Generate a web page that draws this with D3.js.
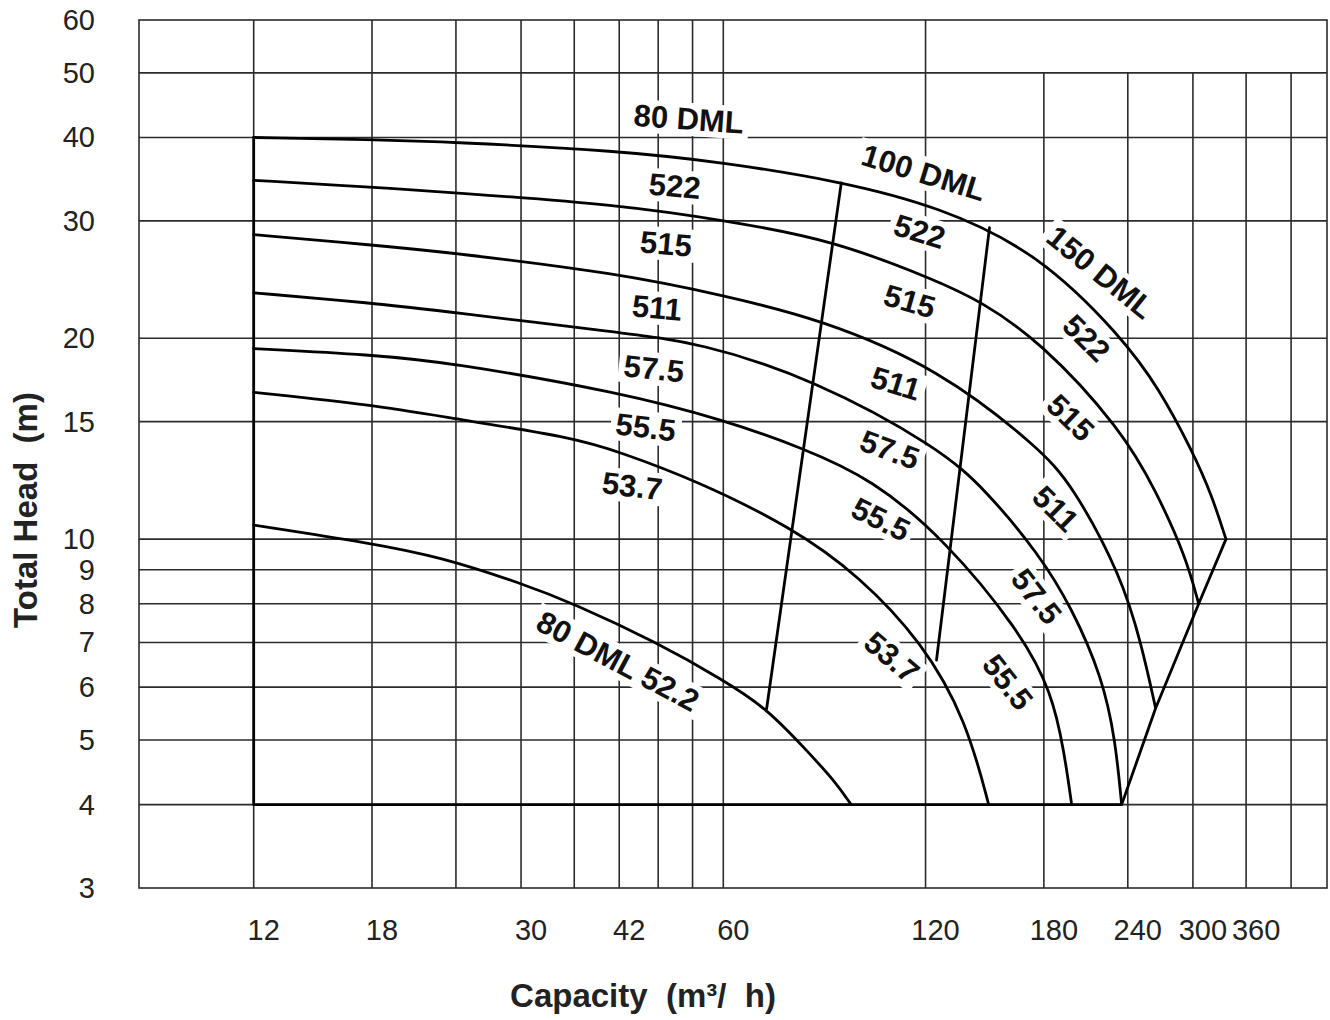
<!DOCTYPE html>
<html>
<head>
<meta charset="utf-8">
<script src="https://cdn.jsdelivr.net/npm/d3@7"></script>
<style>
  html, body { margin: 0; padding: 0; background: #ffffff; }
  svg { display: block; }
</style>
</head>
<body>
<svg id="chart" width="1330" height="1020"></svg>
<script>
// ---------------- DATA ----------------
// axis domains (capacity m3/h, total head m) – log/log chart
const xDomain = [8.1, 475];
const yDomain = [3, 60];

// tick labels
const xTickValues = [12, 18, 30, 42, 60, 120, 180, 240, 300, 360];
const yTickValues = [3, 4, 5, 6, 7, 8, 9, 10, 15, 20, 30, 40, 50, 60];

// grid lines
const xGridFull = [12, 18, 24, 30, 36, 42, 48, 54, 60, 120];
const xGridShort = [180, 240, 300, 360, 420];   // these stop at 50 m
const xGridShortTop = 50;
const yGrid = [4, 5, 6, 7, 8, 9, 10, 15, 20, 30, 40, 50];

// impeller head curves [capacity, head]
const curve522 = [[12, 40], [18, 39.7], [23.5, 39.4], [42.1, 38.2], [60.1, 36.7], [89.4, 34.4],
                  [126, 31.5], [177, 26.8], [235, 20.1], [267, 16.84], [300, 13.5], [320, 11.64], [336, 10]];
const curve515 = [[12, 34.5], [18, 33.7], [23.5, 33.1], [42.1, 31.7], [60.7, 30.0], [87.3, 28.1],
                  [126, 24.3], [144, 22.8], [177, 19.9], [235, 14.6], [264.5, 11.8], [293, 9.4], [306, 8.0]];
const curve511 = [[12, 28.6], [18, 27.6], [23.5, 26.9], [42.1, 25.0], [59.9, 23.2], [83.5, 21.4],
                  [126, 18.0], [177, 13.7], [198, 12.1], [235, 8.8], [252, 6.9], [264, 5.58]];
const curve575 = [[12, 23.4], [18, 22.6], [23.5, 21.9], [42.1, 20.4], [55.4, 19.7], [81.5, 17.4],
                  [126, 13.7], [148, 11.8], [177, 9.5], [198, 7.9], [220, 6.2], [230, 5.0], [235, 4]];
const curve555 = [[12, 19.3], [18, 18.9], [23.5, 18.4], [42.1, 16.6], [60, 15.1], [78.8, 13.7],
                  [100, 12.3], [128, 10.0], [165.5, 7.3], [185, 5.9], [193, 4.8], [198, 4]];
const curve537 = [[12, 16.6], [18, 15.9], [23.5, 15.2], [35.9, 14.2], [42.1, 13.5], [54.1, 12.3],
                  [76.2, 10.4], [95.7, 8.8], [118.8, 7.0], [138, 5.35], [149, 4]];
const curve522b = [[12, 10.5], [18, 9.86], [22.8, 9.4], [29.9, 8.6], [36, 8.0], [47.8, 7.0],
                   [60, 6.15], [69.6, 5.58], [79.9, 4.82], [87.9, 4.34], [93, 4]];
const curves = [curve522, curve515, curve511, curve575, curve555, curve537, curve522b];

// pump-size dividing lines (80/100 DML and 100/150 DML)
const divider80to100 = [[89.9, 34.2], [69.6, 5.57]];
const divider100to150 = [[149.4, 29.3], [124.6, 6.59]];

// minimum head / capacity of the operating range
const minHead = 4;
const minCapacity = 12;

// curve labels
const labelText  = ["80 DML", "522", "515", "511", "57.5", "55.5", "53.7", "80 DML 52.2",
                    "100 DML", "522", "515", "511", "57.5", "55.5", "53.7",
                    "150 DML", "522", "515", "511", "57.5", "55.5"];
const labelQ     = [53.3, 50.8, 49.3, 47.8, 47.3, 46.0, 43.9, 41.8,
                    119.2, 117.6, 113.6, 108.3, 106.1, 102.9, 106.8,
                    218.4, 208.2, 197.1, 187.3, 175.4, 158.9];
const labelH     = [42.6, 33.8, 27.7, 22.2, 18.0, 14.7, 12.0, 6.56,
                    35.4, 28.9, 22.7, 17.1, 13.6, 10.7, 6.65,
                    25.1, 20.0, 15.2, 11.1, 8.2, 6.1];
const labelAngle = [4, 5, 5, 5, 6, 7, 7, 28,
                    17, 17, 16, 17, 20, 26, 40,
                    39, 45, 44, 45, 52, 52];

const xTitle = "Capacity  (m³/  h)";
const yTitle = "Total Head  (m)";

// ---------------- DRAW ----------------
const svg = d3.select("#chart");
const FONT = "'Liberation Sans', Arial, Helvetica, sans-serif";

const x = d3.scaleLog().domain(xDomain).range([139, 1327]);
const y = d3.scaleLog().domain(yDomain).range([888, 20]);

svg.append("rect").attr("width", 1330).attr("height", 1020).attr("fill", "#fff");

const grid = svg.append("g").attr("stroke", "#2b2b2b").attr("stroke-width", 1.6).attr("fill", "none");

grid.selectAll("line.h").data(yGrid).join("line")
  .attr("x1", x(xDomain[0])).attr("x2", x(xDomain[1]))
  .attr("y1", d => y(d)).attr("y2", d => y(d));

grid.selectAll("line.vf").data(xGridFull).join("line")
  .attr("x1", d => x(d)).attr("x2", d => x(d))
  .attr("y1", y(yDomain[0])).attr("y2", y(yDomain[1]));

grid.selectAll("line.vs").data(xGridShort).enter().append("line")
  .attr("x1", d => x(d)).attr("x2", d => x(d))
  .attr("y1", y(yDomain[0])).attr("y2", y(xGridShortTop));

grid.append("rect")
  .attr("x", x(xDomain[0])).attr("y", y(yDomain[1]))
  .attr("width", x(xDomain[1]) - x(xDomain[0]))
  .attr("height", y(yDomain[0]) - y(yDomain[1]));

// curve labels with white background boxes (they cut the grid)
const labels = svg.append("g")
  .attr("font-family", FONT).attr("font-weight", "bold").attr("font-size", 31).attr("fill", "#111");

labelText.forEach((t, i) => {
  const g = labels.append("g")
    .attr("transform", `translate(${x(labelQ[i])},${y(labelH[i])}) rotate(${labelAngle[i]})`);
  const txt = g.append("text")
    .attr("text-anchor", "middle")
    .attr("dominant-baseline", "central")
    .attr("xml:space", "preserve")
    .style("white-space", "pre")
    .text(t);
  const bb = txt.node().getBBox();
  g.insert("rect", "text")
    .attr("x", bb.x - 5).attr("y", bb.y + 1)
    .attr("width", bb.width + 10).attr("height", bb.height - 2)
    .attr("fill", "#fff");
});

// head curves
const line = d3.line().x(d => x(d[0])).y(d => y(d[1])).curve(d3.curveBasis);
const straight = d3.line().x(d => x(d[0])).y(d => y(d[1]));

const marks = svg.append("g").attr("fill", "none").attr("stroke", "#000")
  .attr("stroke-width", 2.8).attr("stroke-linejoin", "round").attr("stroke-linecap", "round");

marks.selectAll("path.curve").data(curves).join("path")
  .attr("class", "curve").attr("d", line);

// operating-range envelope
const envelope = [
  [minCapacity, curve522[0][1]],
  [minCapacity, minHead],
  curve575[curve575.length - 1],
  curve511[curve511.length - 1],
  curve515[curve515.length - 1],
  curve522[curve522.length - 1]
];
marks.append("path").attr("d", straight(envelope));

// dividers between pump sizes
marks.append("path").attr("d", straight(divider80to100));
marks.append("path").attr("d", straight(divider100to150));

// tick labels
const ticks = svg.append("g").attr("font-family", FONT).attr("font-size", 29).attr("fill", "#222");

ticks.selectAll("text.y").data(yTickValues).join("text")
  .attr("class", "y")
  .attr("x", 95).attr("y", d => y(d))
  .attr("text-anchor", "end").attr("dominant-baseline", "central")
  .text(d => d);

ticks.selectAll("text.x").data(xTickValues).enter().append("text")
  .attr("class", "x")
  .attr("x", d => x(d) + 10).attr("y", 940)
  .attr("text-anchor", "middle")
  .text(d => d);

// axis titles
svg.append("text")
  .attr("x", 643).attr("y", 1007)
  .attr("text-anchor", "middle")
  .attr("font-family", FONT).attr("font-weight", "bold").attr("font-size", 33).attr("fill", "#222")
  .attr("xml:space", "preserve").style("white-space", "pre")
  .text(xTitle);

svg.append("text")
  .attr("transform", "translate(37,510) rotate(-90)")
  .attr("text-anchor", "middle")
  .attr("font-family", FONT).attr("font-weight", "bold").attr("font-size", 33).attr("fill", "#222")
  .attr("xml:space", "preserve").style("white-space", "pre")
  .text(yTitle);
</script>
</body>
</html>
